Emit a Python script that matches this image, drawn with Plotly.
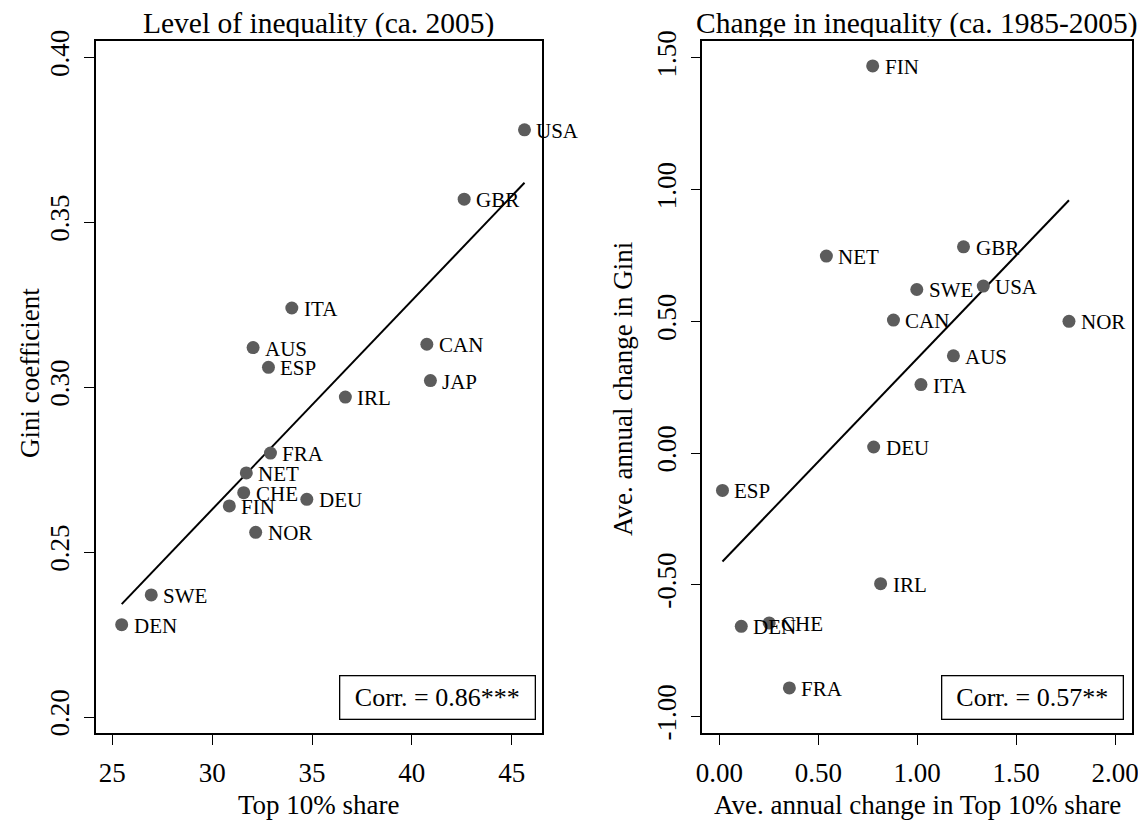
import numpy as np
import plotly.graph_objects as go

# ---------------- data ----------------
countries_level = ["USA", "GBR", "ITA", "AUS", "ESP", "CAN", "JAP", "IRL",
                   "FRA", "NET", "CHE", "FIN", "DEU", "NOR", "SWE", "DEN"]
top10_level = [45.64, 42.62, 33.99, 32.05, 32.82, 40.75, 40.93, 36.67,
               32.92, 31.71, 31.58, 30.86, 34.74, 32.18, 26.95, 25.47]
gini_level = [0.378, 0.357, 0.324, 0.312, 0.306, 0.313, 0.302, 0.297,
              0.280, 0.274, 0.268, 0.264, 0.266, 0.256, 0.237, 0.228]

countries_change = ["FIN", "NET", "GBR", "SWE", "USA", "CAN", "NOR", "AUS",
                    "ITA", "DEU", "ESP", "IRL", "DEN", "CHE", "FRA"]
top10_change = [0.775, 0.541, 1.234, 0.998, 1.334, 0.880, 1.767, 1.183,
                1.019, 0.780, 0.016, 0.815, 0.111, 0.252, 0.354]
gini_change = [1.470, 0.748, 0.783, 0.621, 0.634, 0.505, 0.500, 0.369,
               0.260, 0.023, -0.142, -0.496, -0.658, -0.645, -0.892]

x_ticks_left = [25, 30, 35, 40, 45]
y_ticks_left = [0.20, 0.25, 0.30, 0.35, 0.40]
x_ticks_right = [0.0, 0.5, 1.0, 1.5, 2.0]
y_ticks_right = [-1.0, -0.5, 0.0, 0.5, 1.0, 1.5]

titles = ["Level of inequality (ca. 2005)", "Change in inequality (ca. 1985-2005)"]
x_titles = ["Top 10% share", "Ave. annual change in Top 10% share"]
y_titles = ["Gini coefficient", "Ave. annual change in Gini"]
corr_texts = ["Corr. = 0.86***", "Corr. = 0.57**"]

# ---------------- figure ----------------
# the page places the figure 8px from the top-left corner of the window
OFF = 8
W, H = 1146 - OFF, 821 - OFF
FONT = "Liberation Serif, Times New Roman, serif"
MARKER = "#5c5c5c"


def px(xpix):
    return (xpix - OFF) / W


def py(ypix):
    return 1 - (ypix - OFF) / H


fig = go.Figure()


def add_panel(xs, ys, names, xa, ya):
    xs = np.asarray(xs, float)
    ys = np.asarray(ys, float)
    b, a = np.polyfit(xs, ys, 1)
    xl = np.array([xs.min(), xs.max()])
    fig.add_trace(go.Scatter(x=xl, y=a + b * xl, mode="lines",
                             line=dict(color="black", width=2),
                             xaxis=xa, yaxis=ya, hoverinfo="skip",
                             showlegend=False))
    fig.add_trace(go.Scatter(x=xs, y=ys, mode="markers",
                             marker=dict(color=MARKER, size=13),
                             xaxis=xa, yaxis=ya, text=names,
                             showlegend=False))
    for xv, yv, n in zip(xs, ys, names):
        fig.add_annotation(x=xv, y=yv, xref=xa, yref=ya, text=n,
                           showarrow=False, xanchor="left", yanchor="middle",
                           xshift=10, yshift=-1,
                           font=dict(family=FONT, size=21, color="black"))


add_panel(top10_level, gini_level, countries_level, "x", "y")
add_panel(top10_change, gini_change, countries_change, "x2", "y2")

top_pix, bot_pix = 41, 733
left_dom = [px(95.5), px(541.7)]
right_dom = [px(702.3), px(1131.7)]

axis_common = dict(showline=True, mirror=True, linecolor="black", linewidth=1.5,
                   ticks="outside", ticklen=10, tickwidth=1.3, tickcolor="black",
                   showgrid=False, zeroline=False, automargin=False,
                   tickfont=dict(family=FONT, size=27, color="black"))

fig.update_layout(
    template="none",
    width=W, height=H,
    margin=dict(l=0, r=0, t=0, b=0, pad=0, autoexpand=False),
    paper_bgcolor="white", plot_bgcolor="white",
    font=dict(family=FONT, color="black"),
    showlegend=False,
    xaxis=dict(domain=left_dom, range=[24.159, 46.502], tickvals=x_ticks_left,
               ticktext=[str(v) for v in x_ticks_left], anchor="y",
               ticklabelstandoff=5, **axis_common),
    yaxis=dict(domain=[py(bot_pix), py(top_pix)], range=[0.19515, 0.40494],
               tickvals=y_ticks_left, ticktext=[f"{v:.2f}" for v in y_ticks_left],
               tickangle=-90, anchor="x", ticklabelstandoff=4, **axis_common),
    xaxis2=dict(domain=right_dom, range=[-0.086, 2.084], tickvals=x_ticks_right,
                ticktext=[f"{v:.2f}" for v in x_ticks_right], anchor="y2",
                ticklabelstandoff=5, **axis_common),
    yaxis2=dict(domain=[py(bot_pix), py(top_pix)], range=[-1.063, 1.5645],
                tickvals=y_ticks_right, ticktext=[f"{v:.2f}" for v in y_ticks_right],
                tickangle=-90, anchor="x2", ticklabelstandoff=4, **axis_common),
)

# panel titles
for dom, t in zip([left_dom, right_dom], titles):
    fig.add_annotation(x=(dom[0] + dom[1]) / 2, y=py(8), xref="paper", yref="paper",
                       text=t, showarrow=False, xanchor="center", yanchor="top",
                       height=28, borderpad=0, valign="middle",
                       font=dict(family=FONT, size=29.5, color="black"))

# x-axis titles
for dom, t in zip([left_dom, right_dom], x_titles):
    fig.add_annotation(x=(dom[0] + dom[1]) / 2, y=py(805), xref="paper", yref="paper",
                       text=t, showarrow=False, xanchor="center", yanchor="middle",
                       font=dict(family=FONT, size=27, color="black"))

# y-axis titles
for xc, yc, t in zip([30, 623], [373, 389], y_titles):
    fig.add_annotation(x=px(xc), y=py(yc), xref="paper", yref="paper",
                       text=t, showarrow=False, xanchor="center", yanchor="middle",
                       textangle=-90,
                       font=dict(family=FONT, size=27, color="black"))

# correlation boxes
for xr, w, t in zip([536, 1123.8], [184, 170], corr_texts):
    fig.add_annotation(x=px(xr), y=py(720), xref="paper", yref="paper",
                       text=t, showarrow=False, xanchor="right", yanchor="bottom",
                       width=w, height=32, borderpad=5, bordercolor="black",
                       borderwidth=1.3, bgcolor="white", align="center",
                       font=dict(family=FONT, size=26, color="black"))

fig.write_html("out.html")
